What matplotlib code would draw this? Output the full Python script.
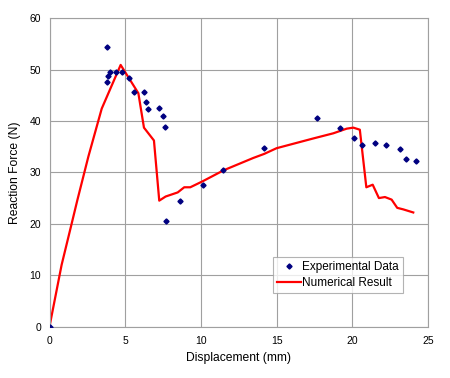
import matplotlib.pyplot as plt

plt.rcParams["font.family"] = ["Liberation Sans", "DejaVu Sans"]

# experimental data points
exp_x = [0.0, 3.82, 3.80, 3.89, 4.02, 4.37, 4.79, 5.23, 5.58, 6.24, 6.40, 6.49,
         7.25, 7.52, 7.63, 7.67, 8.64, 10.14, 11.48, 14.19, 17.65, 19.19, 20.11,
         20.66, 21.50, 22.21, 23.13, 23.55, 24.21]
exp_y = [0.0, 54.3, 47.6, 48.7, 49.5, 49.6, 49.6, 48.4, 45.7, 45.7, 43.7, 42.4,
         42.5, 40.9, 38.9, 20.5, 24.5, 27.6, 30.5, 34.7, 40.6, 38.7, 36.6,
         35.4, 35.7, 35.3, 34.5, 32.6, 32.3]

# numerical result
num_x = [0.0, 0.8, 1.47, 1.84, 2.57, 3.45, 4.70, 5.87, 6.24, 6.90, 7.25, 7.67,
         8.47, 8.90, 9.30, 10.14, 11.5, 13.46, 14.19, 15.0, 17.43, 18.75, 19.63,
         20.07, 20.5, 20.93, 21.35, 21.76, 22.16, 22.6, 22.97, 23.37, 24.03]
num_y = [0.0, 12.0, 20.1, 24.6, 33.1, 42.4, 50.9, 45.4, 38.7, 36.2, 24.5, 25.3,
         26.1, 27.1, 27.1, 28.3, 30.4, 32.8, 33.6, 34.7, 36.6, 37.6, 38.5,
         38.7, 38.3, 27.1, 27.6, 25.0, 25.2, 24.7, 23.1, 22.8, 22.2]

fig = plt.figure(figsize=(4.5, 3.78), dpi=100)
ax = fig.add_axes([0.110, 0.136, 0.841, 0.816])

ax.plot(exp_x, exp_y, linestyle="none", marker="D", markersize=2.6,
        color="#000080", label="Experimental Data", zorder=3)
ax.plot(num_x, num_y, color="red", lw=1.6, label="Numerical Result", zorder=2)

ax.set_xlim(0, 25)
ax.set_ylim(0, 60)
ax.set_xticks(range(0, 26, 5))
ax.set_yticks(range(0, 61, 10))
ax.grid(True, color="#a0a0a0", lw=0.8)
ax.tick_params(length=0, labelsize=7.5)
ax.tick_params(axis="x", pad=7)
ax.tick_params(axis="y", pad=6)
for s in ax.spines.values():
    s.set_color("#a0a0a0")
    s.set_linewidth(0.8)

ax.set_xlabel("Displacement (mm)", fontsize=8.7, labelpad=4)
ax.set_ylabel("Reaction Force (N)", fontsize=8.7, labelpad=6)

leg = ax.legend(loc="lower left", bbox_to_anchor=(0.59, 0.108), fontsize=8.5,
                frameon=True, fancybox=False, borderpad=0.35, handlelength=2.0,
                handletextpad=0.15, labelspacing=0.35, borderaxespad=0)
leg.get_frame().set_edgecolor("#a0a0a0")
leg.get_frame().set_linewidth(0.8)

fig.savefig("out.png", dpi=100)
